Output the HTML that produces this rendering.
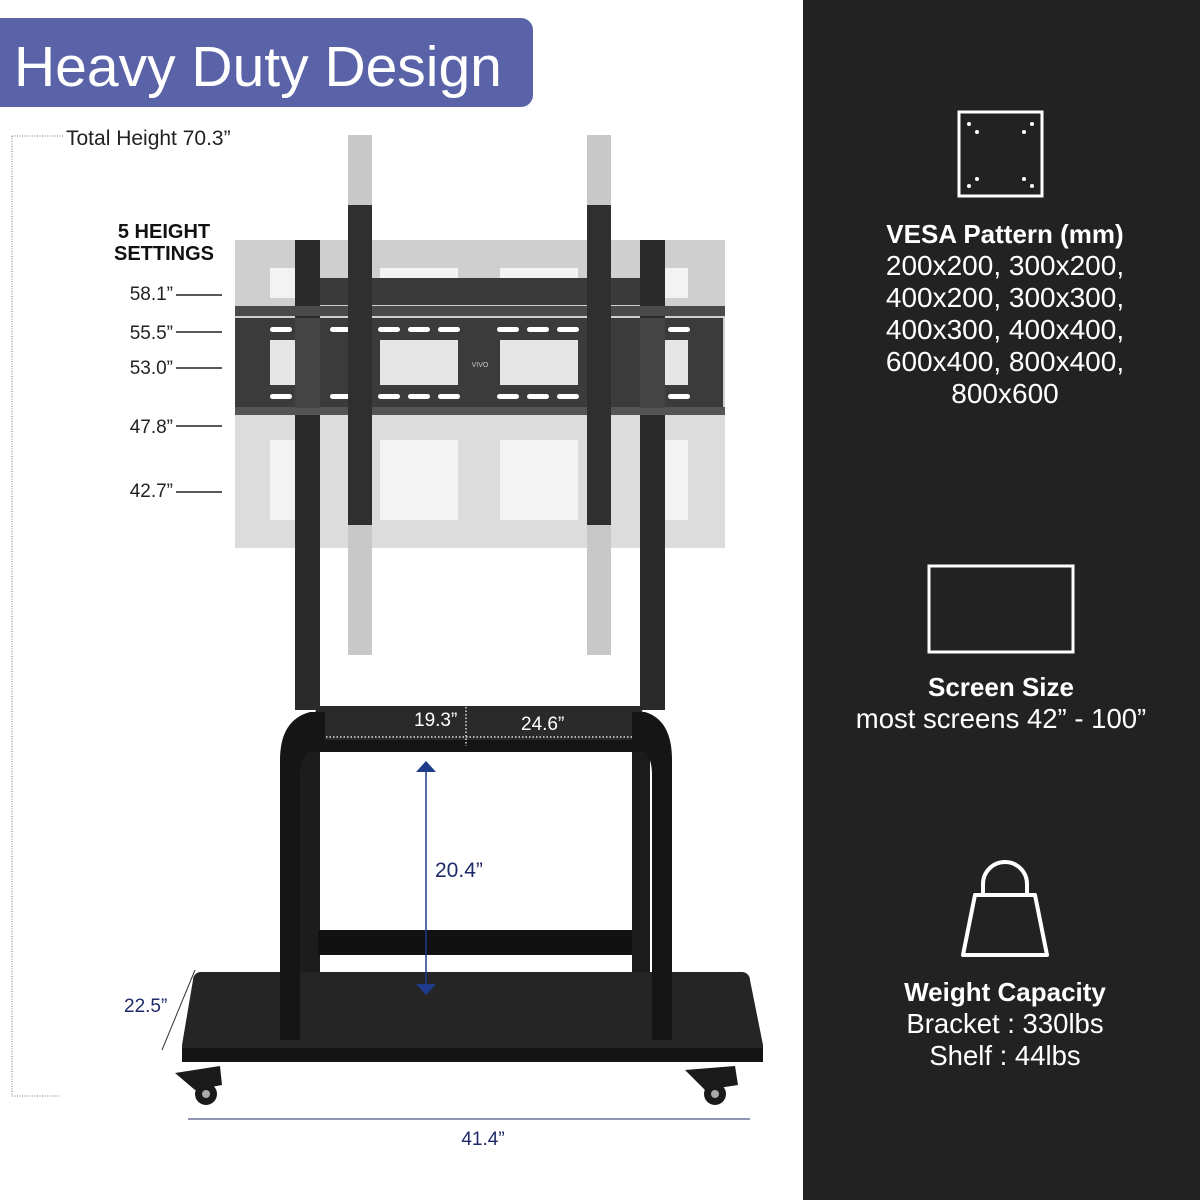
<!DOCTYPE html>
<html><head><meta charset="utf-8"><style>
html,body{margin:0;padding:0;width:1200px;height:1200px;overflow:hidden;background:#fff}
svg{display:block}
text{font-family:"Liberation Sans",sans-serif}
</style></head><body>
<svg width="1200" height="1200" viewBox="0 0 1200 1200" xmlns="http://www.w3.org/2000/svg">
<rect x="0" y="0" width="1200" height="1200" fill="#fff"/>
<rect x="803" y="0" width="397" height="1200" fill="#222"/>
<path d="M0 18 H521 a12 12 0 0 1 12 12 V95 a12 12 0 0 1 -12 12 H0 Z" fill="#5a62a8"/>
<text x="14" y="86" font-size="57" fill="#fff">Heavy Duty Design</text>

<line x1="12" y1="136" x2="64" y2="136" stroke="#777" stroke-dasharray="1,1.5"/>
<line x1="12" y1="136" x2="12" y2="1096" stroke="#777" stroke-dasharray="1,1.5"/>
<line x1="12" y1="1096" x2="60" y2="1096" stroke="#777" stroke-dasharray="1,1.5"/>
<text x="66" y="145" font-size="21" fill="#222">Total Height 70.3”</text>

<text x="164" y="238" font-size="20" font-weight="bold" fill="#111" text-anchor="middle">5 HEIGHT</text>
<text x="164" y="260" font-size="20" font-weight="bold" fill="#111" text-anchor="middle">SETTINGS</text>
<g font-size="19" fill="#222" text-anchor="end">
<text x="173" y="300">58.1”</text>
<text x="173" y="339">55.5”</text>
<text x="173" y="374">53.0”</text>
<text x="173" y="433">47.8”</text>
<text x="173" y="497">42.7”</text>
</g>
<g stroke="#222" stroke-width="1.5">
<line x1="176" y1="295" x2="222" y2="295"/>
<line x1="176" y1="332" x2="222" y2="332"/>
<line x1="176" y1="368" x2="222" y2="368"/>
<line x1="176" y1="426" x2="222" y2="426"/>
<line x1="176" y1="492" x2="222" y2="492"/>
</g>

<rect x="235" y="240" width="490" height="308" fill="#cfcfcf"/>
<rect x="235" y="415" width="490" height="133" fill="#dcdcdc"/>
<g fill="#f3f3f3">
<rect x="270" y="268" width="40" height="30"/>
<rect x="380" y="268" width="78" height="30"/>
<rect x="500" y="268" width="78" height="30"/>
<rect x="655" y="268" width="33" height="30"/>
<rect x="270" y="440" width="40" height="80"/>
<rect x="380" y="440" width="78" height="80"/>
<rect x="500" y="440" width="78" height="80"/>
<rect x="655" y="440" width="33" height="80"/>
</g>
<rect x="295" y="240" width="25" height="470" fill="#2a2a2a"/>
<rect x="640" y="240" width="25" height="470" fill="#2a2a2a"/>
<rect x="320" y="278" width="320" height="27" fill="#3a3a3a"/>
<rect x="235" y="306" width="490" height="10" fill="#4a4a4a"/>
<rect x="235" y="318" width="488" height="90" fill="#3b3b3b"/>
<rect x="235" y="407" width="490" height="8" fill="#555"/>
<g fill="#e6e6e6">
<rect x="270" y="340" width="40" height="45"/>
<rect x="380" y="340" width="78" height="45"/>
<rect x="500" y="340" width="78" height="45"/>
<rect x="655" y="340" width="33" height="45"/>
</g>
<rect x="295" y="318" width="25" height="90" fill="#444"/>
<rect x="640" y="318" width="25" height="90" fill="#444"/>
<g fill="#fff">
<rect x="270" y="327" width="22" height="5" rx="2.5"/><rect x="330" y="327" width="22" height="5" rx="2.5"/><rect x="378" y="327" width="22" height="5" rx="2.5"/><rect x="408" y="327" width="22" height="5" rx="2.5"/><rect x="438" y="327" width="22" height="5" rx="2.5"/><rect x="497" y="327" width="22" height="5" rx="2.5"/><rect x="527" y="327" width="22" height="5" rx="2.5"/><rect x="557" y="327" width="22" height="5" rx="2.5"/><rect x="668" y="327" width="22" height="5" rx="2.5"/>
<rect x="270" y="394" width="22" height="5" rx="2.5"/><rect x="330" y="394" width="22" height="5" rx="2.5"/><rect x="378" y="394" width="22" height="5" rx="2.5"/><rect x="408" y="394" width="22" height="5" rx="2.5"/><rect x="438" y="394" width="22" height="5" rx="2.5"/><rect x="497" y="394" width="22" height="5" rx="2.5"/><rect x="527" y="394" width="22" height="5" rx="2.5"/><rect x="557" y="394" width="22" height="5" rx="2.5"/><rect x="668" y="394" width="22" height="5" rx="2.5"/>
</g>
<rect x="348" y="135" width="24" height="80" fill="#c8c8c8"/>
<rect x="348" y="205" width="24" height="320" fill="#2f2f2f"/>
<rect x="348" y="525" width="24" height="130" fill="#c8c8c8"/>
<rect x="587" y="135" width="24" height="80" fill="#c8c8c8"/>
<rect x="587" y="205" width="24" height="320" fill="#2f2f2f"/>
<rect x="587" y="525" width="24" height="130" fill="#c8c8c8"/>
<text x="480" y="367" font-size="7" fill="#ccc" text-anchor="middle">VIVO</text>

<rect x="300" y="750" width="20" height="225" fill="#1c1c1c"/>
<rect x="632" y="750" width="18" height="225" fill="#1c1c1c"/>
<rect x="318" y="930" width="314" height="25" fill="#111"/>
<path d="M318 706 H640 L655 740 H302 Z" fill="#2a2a2a"/>
<rect x="302" y="740" width="353" height="12" fill="#151515"/>
<line x1="305" y1="737" x2="652" y2="737" stroke="#ddd" stroke-width="1.5" stroke-dasharray="1.5,2"/>
<line x1="466" y1="707" x2="466" y2="746" stroke="#ddd" stroke-width="1.5" stroke-dasharray="1.5,2"/>
<text x="414" y="726" font-size="19" fill="#fff">19.3”</text>
<text x="521" y="730" font-size="19" fill="#fff">24.6”</text>
<path d="M200 972 H742 a8 8 0 0 1 8 8 L763 1045 V1062 H182 V1045 L193 980 a8 8 0 0 1 7 -8 Z" fill="#252525"/>
<rect x="182" y="1048" width="581" height="14" fill="#141414"/>
<path d="M280 1040 V760 Q280 720 310 712 L325 712 L325 745 Q300 748 300 775 V1040 Z" fill="#151515"/>
<path d="M672 1040 V760 Q672 720 645 712 L632 712 L632 745 Q652 748 652 775 V1040 Z" fill="#151515"/>
<g fill="#1a1a1a">
<path d="M175 1073 L220 1066 L222 1085 L195 1090 Z"/>
<circle cx="206" cy="1094" r="11"/>
<path d="M685 1070 L735 1066 L738 1085 L705 1090 Z"/>
<circle cx="715" cy="1094" r="11"/>
</g>
<circle cx="206" cy="1094" r="4" fill="#aaa"/>
<circle cx="715" cy="1094" r="4" fill="#aaa"/>

<line x1="426" y1="770" x2="426" y2="985" stroke="#1e3b8c" stroke-width="1.5"/>
<path d="M416 772 L426 761 L436 772 Z" fill="#1e3b8c"/>
<path d="M416 984 L426 995 L436 984 Z" fill="#1e3b8c"/>
<text x="435" y="877" font-size="21" fill="#1f2a6a">20.4”</text>
<line x1="188" y1="1119" x2="750" y2="1119" stroke="#1f2a6a" stroke-width="1"/>
<text x="483" y="1145" font-size="19" fill="#1f2a6a" text-anchor="middle">41.4”</text>
<line x1="195" y1="970" x2="162" y2="1050" stroke="#333" stroke-width="1"/>
<text x="124" y="1012" font-size="19" fill="#1f2a6a">22.5”</text>

<rect x="959" y="112" width="83" height="84" fill="none" stroke="#fff" stroke-width="3"/>
<g fill="#fff">
<circle cx="969" cy="124" r="2"/><circle cx="1032" cy="124" r="2"/><circle cx="977" cy="132" r="2"/><circle cx="1024" cy="132" r="2"/>
<circle cx="977" cy="179" r="2"/><circle cx="1024" cy="179" r="2"/><circle cx="969" cy="186" r="2"/><circle cx="1032" cy="186" r="2"/>
</g>
<g font-size="28" fill="#fff" text-anchor="middle">
<text x="1005" y="243" font-size="26" font-weight="bold">VESA Pattern (mm)</text>
<text x="1005" y="275">200x200, 300x200,</text>
<text x="1005" y="307">400x200, 300x300,</text>
<text x="1005" y="339">400x300, 400x400,</text>
<text x="1005" y="371">600x400, 800x400,</text>
<text x="1005" y="403">800x600</text>
</g>
<rect x="929" y="566" width="144" height="86" fill="none" stroke="#fff" stroke-width="3"/>
<g font-size="27.5" fill="#fff" text-anchor="middle">
<text x="1001" y="696" font-size="26" font-weight="bold">Screen Size</text>
<text x="1001" y="728">most screens 42” - 100”</text>
</g>
<path d="M983 895 V884 a22 22 0 0 1 44 0 V895" fill="none" stroke="#fff" stroke-width="4"/>
<path d="M975 895 H1035 L1047 955 H963 Z" fill="none" stroke="#fff" stroke-width="4" stroke-linejoin="round"/>
<g font-size="27.5" fill="#fff" text-anchor="middle">
<text x="1005" y="1001" font-size="26" font-weight="bold">Weight Capacity</text>
<text x="1005" y="1033">Bracket : 330lbs</text>
<text x="1005" y="1065">Shelf : 44lbs</text>
</g>
</svg>
</body></html>
